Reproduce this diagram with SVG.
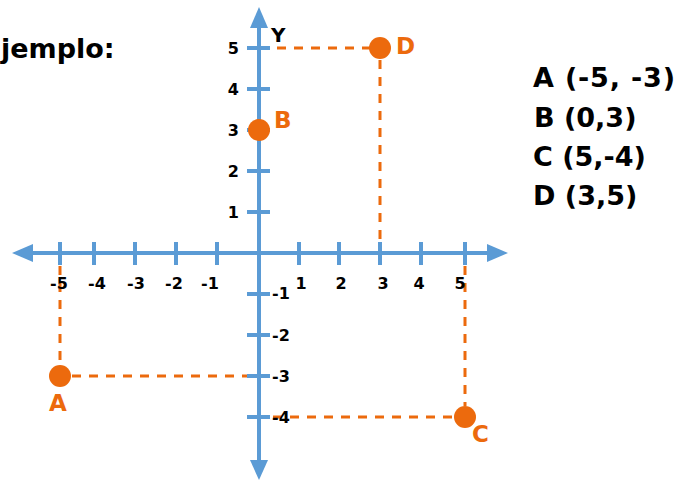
<svg xmlns="http://www.w3.org/2000/svg" width="681" height="481" viewBox="0 0 681 481">
<style>
.ax{stroke:#5B9BD5;stroke-width:4;fill:none}
.tk{stroke:#5B9BD5;stroke-width:4}
.ah{fill:#5B9BD5}
.dash{stroke:#EC6A0D;stroke-width:3;stroke-dasharray:9 8;fill:none}
.pt{fill:#EC6A0D}
.lbl{font-family:"DejaVu Sans","Liberation Sans",sans-serif;font-weight:bold;fill:#000}
.num{font-size:16px}
.ptl{font-family:"DejaVu Sans","Liberation Sans",sans-serif;font-weight:bold;fill:#EC6A0D;font-size:23px}
.big{font-size:27px}
</style>
<rect width="681" height="481" fill="#fff"/>
<text class="lbl big" x="1" y="58">jemplo:</text>
<g id="connectors">
<line class="dash" x1="277" y1="48" x2="370" y2="48"/>
<line class="dash" x1="380" y1="60" x2="380" y2="252"/>
<line class="dash" x1="60" y1="266" x2="60" y2="366"/>
<line class="dash" x1="72" y1="376" x2="248" y2="376"/>
<line class="dash" x1="465" y1="266" x2="465" y2="406"/>
<line class="dash" x1="273" y1="417" x2="454" y2="417"/>
</g>
<g id="axes">
<line class="ax" x1="30" y1="253" x2="490" y2="253"/>
<polygon class="ah" points="12,253 33,244 33,262"/>
<polygon class="ah" points="508,253 487,244 487,262"/>
<line class="ax" x1="259" y1="25" x2="259" y2="464"/>
<polygon class="ah" points="259,7 250,28 268,28"/>
<polygon class="ah" points="259,480 250,460 268,460"/>
<g id="x-ticks">
<line class="tk" x1="60" y1="242" x2="60" y2="265"/>
<line class="tk" x1="94" y1="242" x2="94" y2="265"/>
<line class="tk" x1="135" y1="242" x2="135" y2="265"/>
<line class="tk" x1="176" y1="242" x2="176" y2="265"/>
<line class="tk" x1="217" y1="242" x2="217" y2="265"/>
<line class="tk" x1="299" y1="242" x2="299" y2="265"/>
<line class="tk" x1="339" y1="242" x2="339" y2="265"/>
<line class="tk" x1="380" y1="242" x2="380" y2="265"/>
<line class="tk" x1="421" y1="242" x2="421" y2="265"/>
<line class="tk" x1="465" y1="242" x2="465" y2="265"/>
</g>
<g id="y-ticks">
<line class="tk" x1="247" y1="48" x2="270" y2="48"/>
<line class="tk" x1="247" y1="89" x2="270" y2="89"/>
<line class="tk" x1="247" y1="130" x2="270" y2="130"/>
<line class="tk" x1="247" y1="171" x2="270" y2="171"/>
<line class="tk" x1="247" y1="212" x2="270" y2="212"/>
<line class="tk" x1="247" y1="294" x2="270" y2="294"/>
<line class="tk" x1="247" y1="335" x2="270" y2="335"/>
<line class="tk" x1="247" y1="376" x2="270" y2="376"/>
<line class="tk" x1="247" y1="417" x2="270" y2="417"/>
</g>
<g id="x-labels" class="lbl num" text-anchor="middle">
<text x="59" y="289">-5</text>
<text x="97" y="289">-4</text>
<text x="136" y="289">-3</text>
<text x="174" y="289">-2</text>
<text x="210" y="289">-1</text>
<text x="301" y="289">1</text>
<text x="341" y="289">2</text>
<text x="383" y="289">3</text>
<text x="419" y="289">4</text>
<text x="460" y="289">5</text>
</g>
<g id="y-labels" class="lbl num">
<text x="239" y="54" text-anchor="end">5</text>
<text x="239" y="95" text-anchor="end">4</text>
<text x="239" y="136" text-anchor="end">3</text>
<text x="239" y="177" text-anchor="end">2</text>
<text x="239" y="218" text-anchor="end">1</text>
<text x="272" y="299">-1</text>
<text x="272" y="341">-2</text>
<text x="272" y="382">-3</text>
<text x="272" y="423">-4</text>
</g>
<text class="lbl" x="271" y="42" font-size="20">Y</text>
</g>
<g id="A"><circle class="pt" cx="60" cy="376" r="11"/><text class="ptl" x="58" y="411" text-anchor="middle">A</text></g>
<g id="B"><circle class="pt" cx="259" cy="130" r="11"/><text class="ptl" x="274" y="128">B</text></g>
<g id="C"><circle class="pt" cx="465" cy="417" r="11"/><text class="ptl" x="472" y="442">C</text></g>
<g id="D"><circle class="pt" cx="380" cy="48" r="11"/><text class="ptl" x="396" y="54">D</text></g>
<g id="list" class="lbl big">
<text x="533" y="87" textLength="142">A (-5, -3)</text>
<text x="534" y="127">B (0,3)</text>
<text x="533" y="166">C (5,-4)</text>
<text x="533" y="205">D (3,5)</text>
</g>
</svg>
